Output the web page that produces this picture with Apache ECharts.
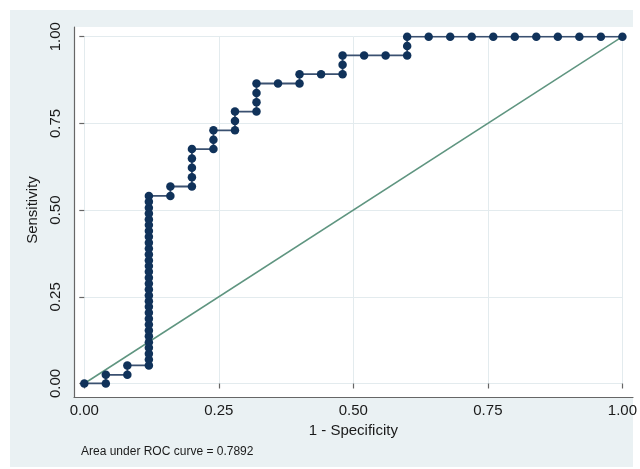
<!DOCTYPE html>
<html>
<head>
    <meta charset="utf-8">
    <script src="https://cdn.jsdelivr.net/npm/echarts@6/dist/echarts.min.js"></script>
    <style>
        html,
        body {
            width: 100%;
            height: 100%;
            margin: 0;
            background: #fff;
        }
    </style>
</head>
<body>
    <div id="main" style="width: 640px;height:469px;"></div>
    <script>
        // ROC curve points (1 - specificity, sensitivity)
        var fpr = [
            0, 0.04, 0.04, 0.08, 0.08,
            0.12, 0.12, 0.12, 0.12, 0.12, 0.12, 0.12, 0.12, 0.12, 0.12,
            0.12, 0.12, 0.12, 0.12, 0.12, 0.12, 0.12, 0.12, 0.12, 0.12,
            0.12, 0.12, 0.12, 0.12, 0.12, 0.12, 0.12, 0.12, 0.12, 0.12,
            0.16, 0.16,
            0.20, 0.20, 0.20, 0.20, 0.20,
            0.24, 0.24, 0.24,
            0.28, 0.28, 0.28,
            0.32, 0.32, 0.32, 0.32,
            0.36,
            0.40, 0.40,
            0.44,
            0.48, 0.48, 0.48,
            0.52, 0.56,
            0.60, 0.60, 0.60,
            0.64, 0.68, 0.72, 0.76, 0.80, 0.84, 0.88, 0.92, 0.96, 1.00
        ];
        var tpr = [
            0, 0, 0.025, 0.025, 0.052,
            0.052, 0.069, 0.086, 0.103, 0.119, 0.136, 0.153, 0.170, 0.187, 0.204,
            0.221, 0.237, 0.254, 0.271, 0.288, 0.305, 0.322, 0.339, 0.355, 0.372,
            0.389, 0.406, 0.423, 0.440, 0.457, 0.473, 0.490, 0.507, 0.524, 0.541,
            0.541, 0.568,
            0.568, 0.595, 0.622, 0.649, 0.676,
            0.676, 0.703, 0.730,
            0.730, 0.757, 0.784,
            0.784, 0.811, 0.838, 0.865,
            0.865,
            0.865, 0.892,
            0.892,
            0.892, 0.919, 0.946,
            0.946, 0.946,
            0.946, 0.973, 1.0,
            1.0, 1.0, 1.0, 1.0, 1.0, 1.0, 1.0, 1.0, 1.0, 1.0
        ];
        // chance line
        var refX = [0, 1];
        var refY = [0, 1];
        var aucText = 'Area under ROC curve = 0.7892';

        var font = 'Liberation Sans, Arial, sans-serif';
        var rocData = fpr.map(function (x, i) { return [x, tpr[i]]; });
        var refData = refX.map(function (x, i) { return [x, refY[i]]; });

        var chart = echarts.init(document.getElementById('main'));
        var option = {
            animation: false,
            textStyle: { fontFamily: font },
            title: {
                text: aucText,
                left: 76,
                top: 441,
                textStyle: { fontSize: 12, fontWeight: 'normal', color: '#1a1a1a', fontFamily: font }
            },
            graphic: [{
                type: 'rect',
                z: -10,
                shape: { x: 10, y: 10, width: 623, height: 457 },
                style: { fill: '#eaf1f3' }
            }],
            grid: [
                // data area
                { left: 84.3, right: 15, top: 36.7, bottom: 85.5 },
                // plot region box
                { left: 74, right: 7, top: 27, bottom: 72, show: true, backgroundColor: '#fff', borderWidth: 0, z: -1 }
            ],
            xAxis: [{
                type: 'value',
                gridIndex: 0,
                min: 0,
                max: 1,
                interval: 0.25,
                offset: 13.5,
                name: '1 - Specificity',
                nameLocation: 'middle',
                nameGap: 26,
                nameTextStyle: { fontSize: 15, color: '#1a1a1a', fontFamily: font },
                axisLine: { show: false },
                axisTick: { show: true, length: 5, lineStyle: { color: '#666', width: 1.2 } },
                axisLabel: {
                    fontSize: 15,
                    color: '#1a1a1a',
                    margin: 6,
                    formatter: function (v) { return v.toFixed(2); }
                },
                splitLine: { show: true, lineStyle: { color: '#e3ebee', width: 1 } }
            }, {
                type: 'value',
                gridIndex: 1,
                min: 0,
                max: 1,
                axisLine: { show: true, onZero: false, lineStyle: { color: '#666', width: 1.2 } },
                axisTick: { show: false },
                axisLabel: { show: false },
                splitLine: { show: false }
            }],
            yAxis: [{
                type: 'value',
                gridIndex: 0,
                min: 0,
                max: 1,
                interval: 0.25,
                offset: 10.3,
                name: 'Sensitivity',
                nameLocation: 'middle',
                nameGap: 29,
                nameTextStyle: { fontSize: 15, color: '#1a1a1a', fontFamily: font },
                axisLine: { show: false },
                axisTick: { show: true, length: 5, lineStyle: { color: '#666', width: 1.2 } },
                axisLabel: {
                    fontSize: 15,
                    color: '#1a1a1a',
                    rotate: 90,
                    margin: 11,
                    formatter: function (v) { return v.toFixed(2); }
                },
                splitLine: { show: true, lineStyle: { color: '#e3ebee', width: 1 } }
            }, {
                type: 'value',
                gridIndex: 1,
                min: 0,
                max: 1,
                axisLine: { show: true, onZero: false, lineStyle: { color: '#666', width: 1.2 } },
                axisTick: { show: false },
                axisLabel: { show: false },
                splitLine: { show: false }
            }],
            series: [{
                name: 'Reference',
                type: 'line',
                xAxisIndex: 0,
                yAxisIndex: 0,
                data: refData,
                showSymbol: false,
                symbol: 'none',
                lineStyle: { color: '#5f9580', width: 1.5 },
                z: 2
            }, {
                name: 'ROC',
                type: 'line',
                xAxisIndex: 0,
                yAxisIndex: 0,
                data: rocData,
                symbol: 'circle',
                symbolSize: 8.5,
                showAllSymbol: true,
                itemStyle: { color: '#10325a' },
                lineStyle: { color: '#3a5070', width: 1.8 },
                z: 3
            }]
        };
        chart.setOption(option);
    </script>
</body>
</html>
